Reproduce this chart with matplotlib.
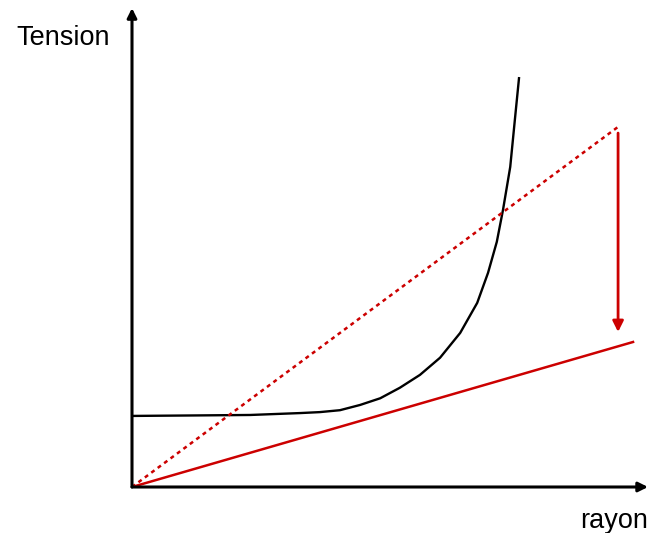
import matplotlib
matplotlib.use("Agg")
import matplotlib.pyplot as plt

# Black curve (tension vs rayon)
curve_x = [0.0, 1.2, 2.29, 3.26, 3.64, 4.03, 4.42, 4.81, 5.19, 5.58, 5.97, 6.36, 6.69, 6.90, 7.07, 7.19, 7.33, 7.42, 7.50]
curve_y = [1.49, 1.50, 1.51, 1.55, 1.57, 1.61, 1.72, 1.86, 2.08, 2.35, 2.71, 3.23, 3.86, 4.49, 5.14, 5.81, 6.71, 7.70, 8.57]

# Red dashed line (before)
dashed_x = [0.0, 9.42]
dashed_y = [0.0, 7.55]

# Red solid line (after)
solid_x = [0.0, 9.71]
solid_y = [0.0, 3.04]

# Red arrow
arrow_x = 9.42
arrow_from = 7.42
arrow_to = 3.25

x_label = "rayon"
y_label = "Tension"

red = "#cc0000"

fig = plt.figure(figsize=(6.51, 5.33), dpi=100)
ax = fig.add_axes([132/651, 46/533, 516/651, 477/533])
ax.set_xlim(0, 10)
ax.set_ylim(0, 10)
ax.axis("off")

ax.plot(curve_x, curve_y, color="black", lw=1.7, solid_joinstyle="round")
ax.plot(dashed_x, dashed_y, color=red, lw=1.8, linestyle=(0, (1.6, 1.6)))
ax.plot(solid_x, solid_y, color=red, lw=1.8)

ax.annotate("", xy=(arrow_x, arrow_to), xytext=(arrow_x, arrow_from),
            arrowprops=dict(arrowstyle="-|>", color=red, lw=2.0,
                            mutation_scale=16, shrinkA=0, shrinkB=0))

# Axes with arrows
ax.annotate("", xy=(1.0, 0), xytext=(0, 0), xycoords="axes fraction",
            arrowprops=dict(arrowstyle="-|>", color="black", lw=2.2,
                            mutation_scale=14, shrinkA=0, shrinkB=0))
ax.annotate("", xy=(0, 1.004), xytext=(0, 0), xycoords="axes fraction",
            arrowprops=dict(arrowstyle="-|>", color="black", lw=2.2,
                            mutation_scale=14, shrinkA=0, shrinkB=0))

fig.text(63/651, 1 - 38/533, y_label, ha="center", va="center",
         fontsize=19.5, family="Liberation Sans")
fig.text(580/651, 1 - 521/533, x_label, ha="left", va="center",
         fontsize=19.5, family="Liberation Sans")

fig.savefig("out.png", dpi=100)
